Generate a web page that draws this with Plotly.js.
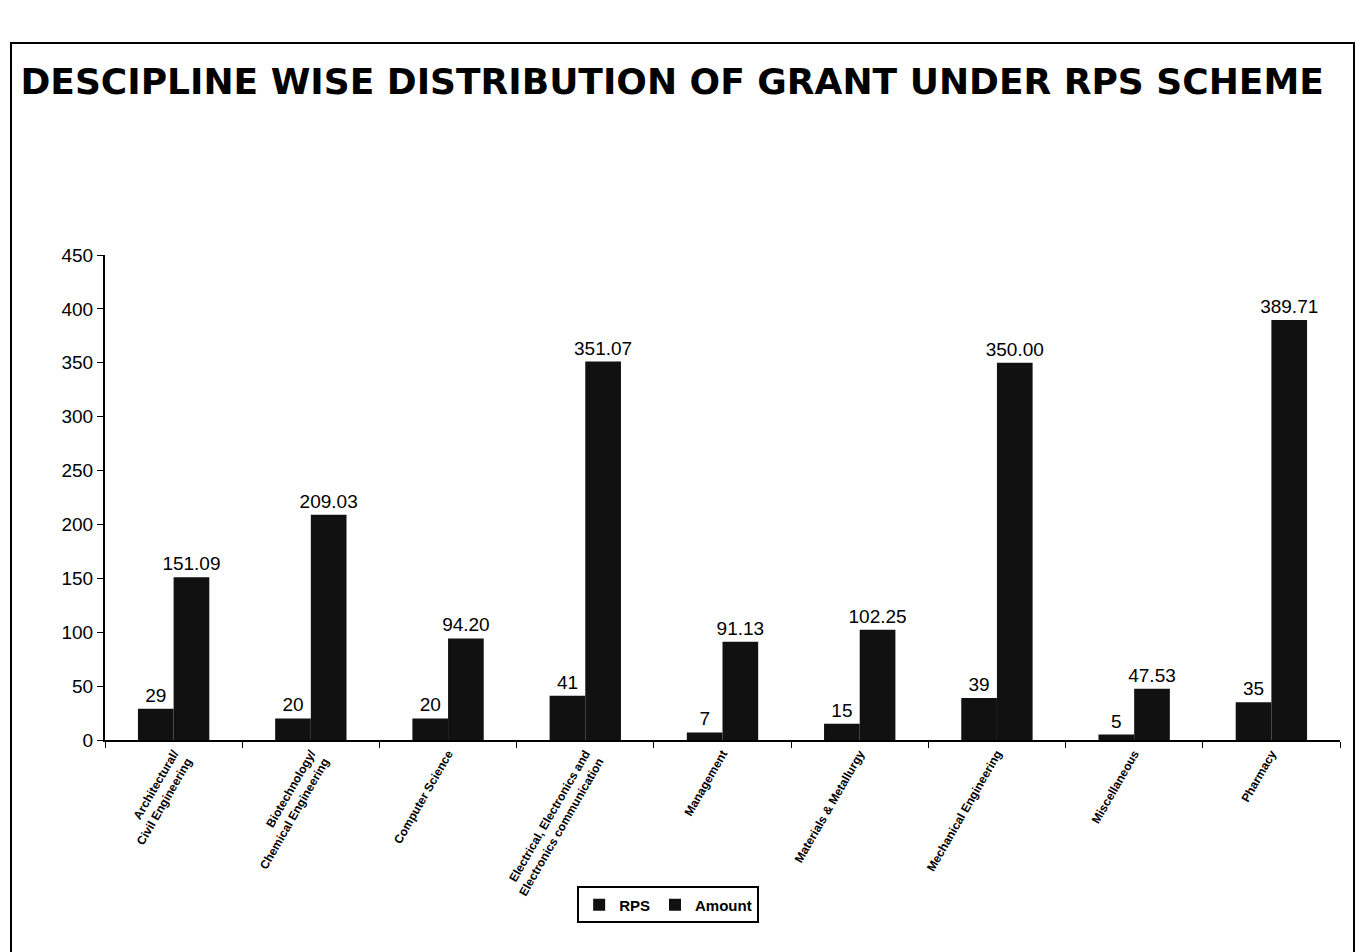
<!DOCTYPE html>
<html>
<head>
<meta charset="utf-8">
<script src="https://cdn.plot.ly/plotly-3.0.1.min.js"></script>
<style>
html,body{margin:0;padding:0;background:#fff;}
#wrap{position:absolute;left:10px;top:42px;width:1345px;height:920px;border:2px solid #000;box-sizing:border-box;}
#chart{position:absolute;left:0;top:0;width:1365px;height:952px;}
</style>
</head>
<body>
<div id="wrap"></div>
<div id="chart"></div>
<script>
const categories = [
  "Architectural/<br>Civil Engineering",
  "Biotechnology/<br>Chemical Engineering",
  "Computer Science",
  "Electrical, Electronics and<br>Electronics communication",
  "Management",
  "Materials & Metallurgy",
  "Mechanical Engineering",
  "Miscellaneous",
  "Pharmacy"
];
const rpsValues = [29, 20, 20, 41, 7, 15, 39, 5, 35];
const amountValues = [151.09, 209.03, 94.20, 351.07, 91.13, 102.25, 350.00, 47.53, 389.71];
const yTicks = [0, 50, 100, 150, 200, 250, 300, 350, 400, 450];

const traces = [
  {
    type: 'bar', name: 'RPS', x: categories, y: rpsValues,
    marker: {color: '#111'},
    text: rpsValues.map(String), textposition: 'outside',
    textfont: {family: 'Liberation Sans, Arial', size: 19, color: '#000'},
    cliponaxis: false
  },
  {
    type: 'bar', name: 'Amount', x: categories, y: amountValues,
    marker: {color: '#111'},
    texttemplate: '%{y:.2f}', textposition: 'outside',
    textfont: {family: 'Liberation Sans, Arial', size: 19, color: '#000'},
    cliponaxis: false
  }
];

const layout = {
  width: 1365, height: 952,
  paper_bgcolor: 'rgba(0,0,0,0)', plot_bgcolor: 'rgba(0,0,0,0)',
  margin: {l: 105, r: 25, t: 255, b: 212},
  title: {
    text: '<b>DESCIPLINE WISE DISTRIBUTION OF GRANT UNDER RPS SCHEME</b>',
    font: {family: 'DejaVu Sans, Arial', size: 36, color: '#000'},
    x: 0.015, xanchor: 'left', xref: 'container', y: 0.915, yanchor: 'middle'
  },
  font: {family: 'Liberation Sans, Arial', color: '#000'},
  barmode: 'group', bargap: 0.48, bargroupgap: 0,
  uniformtext: {mode: false},
  showlegend: true,
  legend: {
    orientation: 'h', x: 0.456, xanchor: 'center', y: -0.34, yanchor: 'middle',
    bordercolor: '#000', borderwidth: 2, bgcolor: '#fff',
    font: {family: 'Liberation Sans, Arial', size: 15, color: '#000', weight: 'bold'}
  },
  xaxis: {
    type: 'category', tickangle: -60, showline: true, linecolor: '#000', linewidth: 2,
    ticks: 'outside', tickson: 'boundaries', ticklen: 6, tickcolor: '#000',
    tickfont: {family: 'Liberation Sans, Arial', size: 12, color: '#000', weight: 'bold'},
    showgrid: false, zeroline: false
  },
  yaxis: {
    range: [0, 450], tickvals: yTicks, ticktext: yTicks.map(String),
    showline: true, linecolor: '#000', linewidth: 2,
    ticks: 'outside', ticklen: 6, tickcolor: '#000',
    tickfont: {family: 'Liberation Sans, Arial', size: 19, color: '#000'},
    showgrid: false, zeroline: false
  }
};
layout.uniformtext = undefined;
traces.forEach(t => { t.constraintext = 'none'; });

Plotly.newPlot('chart', traces, layout, {displayModeBar: false, staticPlot: true});
</script>
</body>
</html>
